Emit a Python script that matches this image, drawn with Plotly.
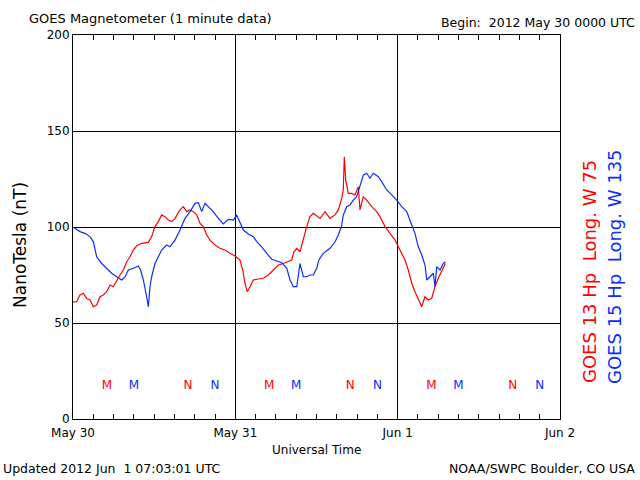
import plotly.graph_objects as go

# Hours since 2012 May 30 00:00 UTC
g15_hours = [0, 0.3, 1.03, 1.77, 2.51, 3.0, 3.5, 4.24, 4.73, 5.22, 5.72, 6.46, 7.2, 7.69, 8.18, 8.92,
             9.66, 10.0, 10.4, 10.79, 11.14, 11.38, 11.63, 12.12, 12.62, 13.11, 13.85, 14.34, 15.08,
             15.82, 16.56, 17.3, 18.04, 18.53, 19.03, 19.52, 20.0, 20.74, 21.48, 22.22, 22.96, 23.7,
             24.2, 24.69, 25.18, 25.92, 26.66, 27.16, 27.9, 28.64, 29.38, 30.12, 30.86, 31.6, 32.09,
             32.58, 33.08, 33.56, 34.05, 34.55, 35.04, 35.53, 36.03, 36.37, 37.0, 38.0, 38.74, 39.23,
             39.73, 39.96, 40.47, 40.95, 41.44, 41.94, 42.43, 42.92, 43.42, 43.91, 44.4, 45.14, 45.64,
             46.38, 47.12, 47.86, 48.6, 49.34, 50.08, 50.56, 51.05, 51.56, 52.04, 52.3, 52.78, 53.27,
             53.52, 53.77, 54.26, 54.75, 55.05]
g15_hp = [100, 99.3, 97.6, 96.7, 95, 92.4, 84.5, 81, 79.3, 77.3, 75.9, 74.1, 72.4, 74, 77.6, 78.5,
          79.7, 77.6, 72.4, 65.5, 58.5, 68.9, 74.1, 81, 84.5, 88, 90.6, 89.7, 93.2,
          98.4, 104.5, 108, 112.3, 112.7, 108, 112.3, 110.6, 108, 104.5, 101.6, 104, 103.6,
          106.2, 101.9, 98.4, 96.4, 95, 92.4, 89.7, 86.3, 83.2, 82.3, 81.4, 78.5, 72.4,
          68.9, 68.9, 81, 74.1, 74.1, 75, 75, 78.5, 83, 86.3, 88.9, 92.3, 95.8,
          101, 106.3, 110.6, 111.5, 114, 115.8, 121.9, 127, 128, 125.4, 128, 126.2, 123.6,
          119.3, 116.7, 114, 110.6, 108, 101, 96.7, 89.7, 85.4, 80.2, 72.4, 74.1, 75.9,
          68.9, 79.3, 77.6, 81, 81.9]

g13_hours = [0, 0.54, 1.03, 1.53, 2.02, 2.51, 3.0, 3.5, 3.99, 4.48, 4.98, 5.47, 5.96, 6.46, 6.95,
             7.44, 7.94, 8.43, 8.92, 9.42, 10.15, 11.14, 11.63, 12.12, 12.62, 13.11, 13.6, 14.09,
             14.59, 15.08, 15.82, 16.31, 16.81, 17.3, 17.79, 18.29, 18.78, 19.27, 19.77, 20.26, 21.0,
             21.73, 22.47, 23.21, 23.95, 24.69, 25.09, 25.43, 25.77, 26.17, 26.66, 27.4, 28.14,
             28.88, 29.38, 29.87, 30.36, 31.1, 31.84, 32.33, 32.67, 33.08, 33.56, 34.05, 34.55,
             35.04, 35.53, 36.52, 37.26, 38.0, 38.74, 39.23, 39.73, 39.96, 40.11, 40.32, 40.7, 41.2,
             41.69, 42.18, 42.43, 42.92, 43.42, 44.16, 44.9, 45.39, 46.13, 46.87, 47.61, 48.1, 48.6,
             49.09, 49.57, 50.08, 50.56, 51.05, 51.56, 52.04, 52.53, 53.03, 53.52, 54.01, 54.51, 55.05]
g13_hp = [61, 61.1, 64.6, 65.5, 62.8, 62, 58.5, 59.4, 63.7, 64.6, 66.3, 69.8, 68.9, 72.4, 75,
          77.6, 81.9, 84.5, 88, 90.3, 91.5, 92, 95, 100.2, 102.8, 106.3, 105.4, 103.6,
          102.8, 104.5, 108.9, 110.6, 108, 108.9, 108, 106.3, 101.9, 100.2, 95.8, 93.2, 90.6,
          88.9, 88, 86.3, 84.9, 82.8, 77.6, 70.7, 66.3, 68.9, 72.4, 72.9, 73.3,
          75, 76.7, 78.5, 80.2, 81, 81.9, 82.8, 87.1, 88.9, 87.1, 94.1, 100.2,
          105.4, 107.1, 104.5, 108, 104.5, 106.3, 108.9, 114.9, 119.3, 136.6, 124.5, 117.5, 117.5,
          116.7, 121, 108.9, 115.8, 114, 110.6, 108, 105.4, 100.2, 96.7, 93.2, 89.7, 86.3,
          82.8, 77.6, 70.7, 66.3, 62, 58.5, 63.7, 62, 62.8, 68.9, 73.3, 76.7, 81]

# Local midnight (M) / noon (N) markers, hours UT
g13_m = [5, 29, 53]
g13_n = [17, 41, 65]
g15_m = [9, 33, 57]
g15_n = [21, 45, 69]
marker_level = 17

day_ticks = [0, 24, 48, 72]
day_labels = ["May 30", "May 31", "Jun 1", "Jun 2"]
y_ticks = [0, 50, 100, 150, 200]

RED = "#ff0000"
BLUE = "#0a2dff"
FONT = "DejaVu Sans"

W, H = 640, 480
ML, MR, MT, MB = 73, 80, 35, 61

fig = go.Figure()
fig.add_trace(go.Scatter(x=g13_hours, y=g13_hp, mode="lines", line=dict(color=RED, width=1.2)))
fig.add_trace(go.Scatter(x=g15_hours, y=g15_hp, mode="lines", line=dict(color=BLUE, width=1.2)))

for xs, txt, col in [(g13_m, "M", RED), (g15_m, "M", BLUE), (g13_n, "N", RED), (g15_n, "N", BLUE)]:
    fig.add_trace(go.Scatter(x=xs, y=[marker_level] * len(xs), mode="text", text=[txt] * len(xs),
                             textfont=dict(color=col, size=12, family=FONT)))

fig.update_layout(
    width=W, height=H,
    margin=dict(l=ML, r=MR, t=MT, b=MB),
    paper_bgcolor="white", plot_bgcolor="white",
    showlegend=False,
    font=dict(family=FONT, color="black", size=12),
    xaxis=dict(range=[0, 72], tickvals=day_ticks, ticktext=day_labels,
               showgrid=True, gridcolor="black", gridwidth=1,
               showline=True, linecolor="black", linewidth=1, mirror="allticks",
               ticks="inside", ticklen=5, tickcolor="black", zeroline=False,
               tickfont=dict(size=12, family=FONT), ticklabelstandoff=3,
               minor=dict(dtick=3, ticks="inside", ticklen=5, tickcolor="black", showgrid=False),
               fixedrange=True),
    yaxis=dict(range=[0, 200], tickvals=y_ticks,
               showgrid=True, gridcolor="black", gridwidth=1,
               showline=True, linecolor="black", linewidth=1, mirror=True,
               ticks="", zeroline=False, tickfont=dict(size=12, family=FONT),
               fixedrange=True),
)


def px_to_paper(x, y):
    return (x - ML) / (W - ML - MR), 1 - (y - MT) / (H - MT - MB)


ann = [
    dict(text="GOES Magnetometer (1 minute data)", x=27, y=9, xanchor="left", yanchor="top", size=13, color="black", angle=0),
    dict(text="Begin:  2012 May 30 0000 UTC", x=637, y=13, xanchor="right", yanchor="top", size=12.5, color="black", angle=0),
    dict(text="Universal Time", x=316, y=441, xanchor="center", yanchor="top", size=12, color="black", angle=0),
    dict(text="Updated 2012 Jun  1 07:03:01 UTC", x=1, y=459, xanchor="left", yanchor="top", size=12.5, color="black", angle=0),
    dict(text="NOAA/SWPC Boulder, CO USA", x=637, y=459, xanchor="right", yanchor="top", size=12.5, color="black", angle=0),
    dict(text="NanoTesla (nT)", x=20, y=245, xanchor="center", yanchor="middle", size=17, color="black", angle=-90),
    dict(text="GOES 13 Hp  Long. W 75", x=589, y=272, xanchor="center", yanchor="middle", size=18, color=RED, angle=-90),
    dict(text="GOES 15 Hp  Long. W 135", x=614, y=267, xanchor="center", yanchor="middle", size=18, color=BLUE, angle=-90),
]
for a in ann:
    px, py = px_to_paper(a["x"], a["y"])
    fig.add_annotation(xref="paper", yref="paper", x=px, y=py, text=a["text"], showarrow=False,
                       xanchor=a["xanchor"], yanchor=a["yanchor"], textangle=a["angle"],
                       font=dict(family=FONT, size=a["size"], color=a["color"]))

fig.write_html("out.html", config={"displayModeBar": False, "staticPlot": True},
               post_script="document.body.style.margin='0px';")
